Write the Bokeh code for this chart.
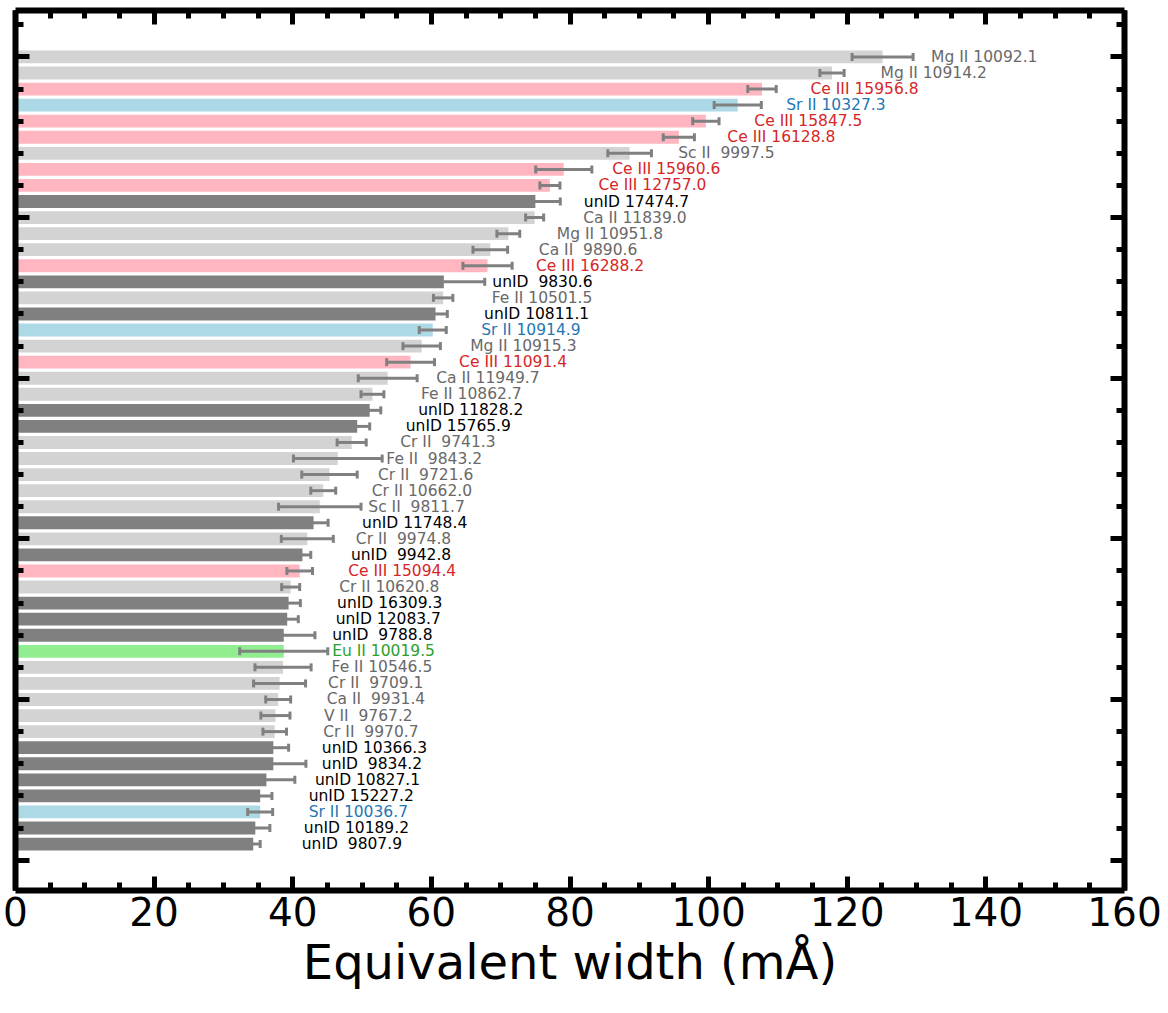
from bokeh.plotting import figure
from bokeh.models import (LinearAxis, SingleIntervalTicker, ColumnDataSource,
                          Whisker, TeeHead, Range1d)
from bokeh.core.properties import value
from bokeh.embed import file_html
from bokeh.resources import INLINE

# ---- data (top bar first) ----
species = ["Mg II", "Mg II", "Ce III", "Sr II", "Ce III", "Ce III", "Sc II", "Ce III", "Ce III", "unID",
           "Ca II", "Mg II", "Ca II", "Ce III", "unID", "Fe II", "unID", "Sr II", "Mg II", "Ce III",
           "Ca II", "Fe II", "unID", "unID", "Cr II", "Fe II", "Cr II", "Cr II", "Sc II", "unID",
           "Cr II", "unID", "Ce III", "Cr II", "unID", "unID", "unID", "Eu II", "Fe II", "Cr II",
           "Ca II", "V II", "Cr II", "unID", "unID", "unID", "unID", "Sr II", "unID", "unID"]
wavelengths = [10092.1, 10914.2, 15956.8, 10327.3, 15847.5, 16128.8, 9997.5, 15960.6, 12757.0, 17474.7,
               11839.0, 10951.8, 9890.6, 16288.2, 9830.6, 10501.5, 10811.1, 10914.9, 10915.3, 11091.4,
               11949.7, 10862.7, 11828.2, 15765.9, 9741.3, 9843.2, 9721.6, 10662.0, 9811.7, 11748.4,
               9974.8, 9942.8, 15094.4, 10620.8, 16309.3, 12083.7, 9788.8, 10019.5, 10546.5, 9709.1,
               9931.4, 9767.2, 9970.7, 10366.3, 9834.2, 10827.1, 15227.2, 10036.7, 10189.2, 9807.9]
ew = [125.1, 117.8, 107.7, 104.2, 99.6, 95.7, 88.6, 79.1, 77.1, 75.0,
      74.9, 71.1, 68.5, 68.1, 61.8, 61.7, 60.6, 60.2, 58.6, 57.0,
      53.7, 51.5, 51.1, 49.3, 48.5, 46.5, 45.3, 44.4, 43.9, 43.0,
      42.1, 41.4, 41.0, 39.7, 39.4, 39.2, 38.7, 38.7, 38.6, 38.1,
      37.9, 37.5, 37.4, 37.2, 37.2, 36.2, 35.3, 35.3, 34.6, 34.3]
ew_err = [4.4, 1.75, 2.05, 3.4, 1.9, 2.25, 3.15, 4.05, 1.45, 3.6,
          1.3, 1.65, 2.5, 3.55, 5.9, 1.4, 1.7, 1.95, 2.7, 3.45,
          4.25, 1.65, 1.6, 1.8, 2.1, 6.4, 4.0, 1.8, 5.95, 2.1,
          3.75, 1.2, 1.85, 1.3, 1.7, 1.6, 4.5, 6.35, 4.05, 3.75,
          1.8, 2.1, 1.7, 2.2, 4.7, 4.1, 1.7, 1.8, 2.1, 1.0]

bar_colors = {"Ce III": "#ffb6c1", "Sr II": "#add8e6", "Eu II": "#90ee90", "unID": "#808080"}
text_colors = {"Ce III": "#d62728", "Sr II": "#1f77b4", "Eu II": "#2ca02c", "unID": "#000000"}

n = len(ew)
ypos = [n - i for i in range(n)]
labels = [f"{s} {w:7.1f}".replace(" ", "\u00a0") for s, w in zip(species, wavelengths)]
src = ColumnDataSource(dict(
    y=ypos, ew=ew,
    lower=[v - e for v, e in zip(ew, ew_err)],
    upper=[v + e for v, e in zip(ew, ew_err)],
    tx=[v + 7 for v in ew],
    label=labels,
    bcol=[bar_colors.get(s, "#d3d3d3") for s in species],
    tcol=[text_colors.get(s, "#696969") for s in species],
))

p = figure(width=1168, height=1013, output_backend="svg", toolbar_location=None,
           x_range=Range1d(0, 160), y_range=Range1d(-1.89, 52.89),
           min_border_left=15, min_border_right=44, min_border_top=10, min_border_bottom=123,
           x_axis_location="below", y_axis_location="left")
p.grid.visible = False
p.outline_line_color = None

p.hbar(y="y", left=0, right="ew", height=0.8, fill_color="bcol", line_color=None, source=src)

head = dict(size=8, line_color="#808080", line_width=3)
w = Whisker(base="y", lower="lower", upper="upper", dimension="width", source=src,
            line_color="#808080", line_width=3, level="annotation",
            lower_head=TeeHead(**head), upper_head=TeeHead(**head))
p.add_layout(w)

p.text(x="tx", y="y", text="label", text_color="tcol", source=src,
       text_font=value("DejaVu Sans"), text_font_size="15.5px",
       text_baseline="middle", text_align="left")


def style(ax, labels_on):
    ax.axis_line_width = 6
    ax.axis_line_color = "black"
    ax.major_tick_in = 14
    ax.major_tick_out = 0
    ax.minor_tick_in = 8
    ax.minor_tick_out = 0
    ax.major_tick_line_width = 5
    ax.minor_tick_line_width = 5
    ax.major_tick_line_color = "black"
    ax.minor_tick_line_color = "black"
    if not labels_on:
        ax.major_label_text_font_size = "0px"
        ax.major_label_text_color = None
        ax.major_label_standoff = 0


p.xaxis.ticker = SingleIntervalTicker(interval=20, num_minor_ticks=4)
p.yaxis.ticker = SingleIntervalTicker(interval=10, num_minor_ticks=5)
style(p.xaxis[0], True)
style(p.yaxis[0], False)
p.xaxis.major_label_text_font = "DejaVu Sans"
p.xaxis.major_label_text_font_size = "39px"
p.xaxis.major_label_text_color = "black"
p.xaxis.major_label_standoff = 6
p.xaxis.axis_label = "Equivalent width (mÅ)"
p.xaxis.axis_label_text_font = "DejaVu Sans"
p.xaxis.axis_label_text_font_size = "48px"
p.xaxis.axis_label_text_font_style = "normal"
p.xaxis.axis_label_text_color = "black"
p.xaxis.axis_label_standoff = 5

top = LinearAxis(ticker=SingleIntervalTicker(interval=20, num_minor_ticks=4))
style(top, False)
p.add_layout(top, "above")
right = LinearAxis(ticker=SingleIntervalTicker(interval=10, num_minor_ticks=5))
style(right, False)
p.add_layout(right, "right")

open("out.html", "w").write(file_html(p, INLINE))
